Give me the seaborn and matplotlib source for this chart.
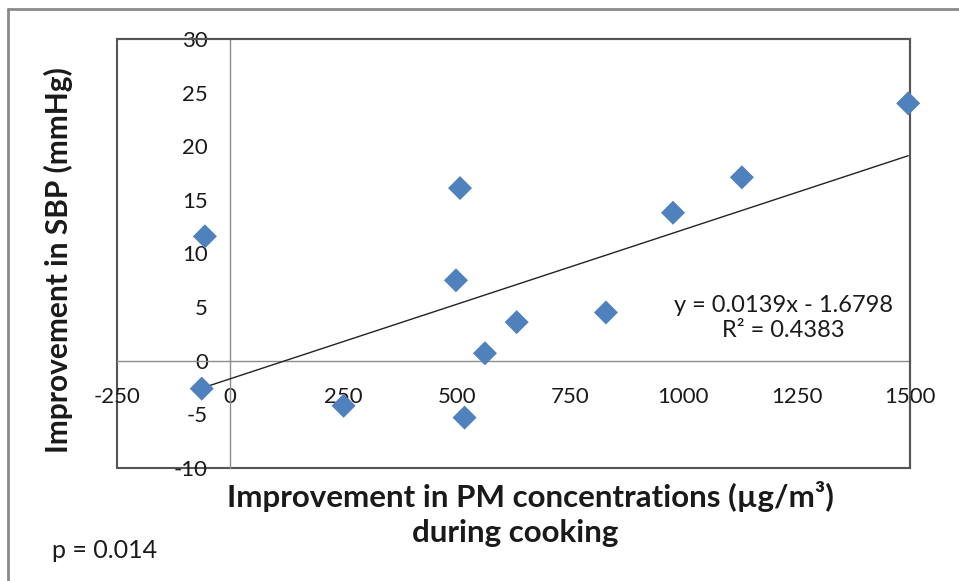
import numpy as np
import pandas as pd
import seaborn as sns
import matplotlib.pyplot as plt
from matplotlib.patches import Rectangle
from matplotlib.lines import Line2D

# data
pm_improvement = [-56, -63, 250, 507, 498, 517, 562, 632, 829, 977, 1129, 1496]
sbp_improvement = [11.6, -2.6, -4.2, 16.1, 7.5, -5.3, 0.7, 3.6, 4.5, 13.8, 17.1, 24.0]
slope = 0.0139
intercept = -1.6798
r_squared = 0.4383
p_value = 0.014
x_ticks = [-250, 0, 250, 500, 750, 1000, 1250, 1500]
y_ticks = [-10, -5, 0, 5, 10, 15, 20, 25, 30]

df = pd.DataFrame({"pm": pm_improvement, "sbp": sbp_improvement})

sns.set_style("white")
plt.rcParams["font.family"] = ["Lato", "DejaVu Sans"]
plt.rcParams["axes.unicode_minus"] = False

fig = plt.figure(figsize=(9.59, 5.81), dpi=100)
ax = fig.add_axes([117 / 959, 1 - 468 / 581, (910 - 117) / 959, (468 - 39) / 581])

# trendline from the printed equation
xs = np.array([min(pm_improvement), max(pm_improvement)])
sns.lineplot(x=xs, y=slope * xs + intercept, color="#222222", linewidth=1.0, ax=ax, zorder=2)
sns.scatterplot(data=df, x="pm", y="sbp", marker="D", s=150, color="#4F81BD",
                edgecolor="none", ax=ax, zorder=3, clip_on=False)

ax.set_xlim(-250, 1500)
ax.set_ylim(-10, 30)
ax.set_xticks(x_ticks)
ax.set_yticks(y_ticks)
ax.set_xlabel("")
ax.set_ylabel("")

# axes cross at zero
ax.spines["left"].set_position(("data", 0))
ax.spines["bottom"].set_position(("data", 0))
for s in ["left", "bottom"]:
    ax.spines[s].set_color("#8c8c8c")
    ax.spines[s].set_linewidth(1.0)
    ax.spines[s].set_zorder(1)
for s in ["top", "right"]:
    ax.spines[s].set_color("#555555")
    ax.spines[s].set_linewidth(1.5)
ax.add_patch(Rectangle((0, 0), 1, 1, transform=ax.transAxes, fill=False,
                       edgecolor="#555555", linewidth=1.5, clip_on=False, zorder=0))

ax.tick_params(axis="both", length=0, labelsize=16, colors="#1a1a1a")
ax.tick_params(axis="y", pad=16)
ax.tick_params(axis="x", pad=19)

eq = f"y = {slope:.4f}x - {abs(intercept):.4f}\nR\u00b2 = {r_squared:.4f}"
ax.text(1220, 4.0, eq, ha="center", va="center", fontsize=17, color="#1a1a1a",
        linespacing=1.25)

fig.text(58 / 959, 1 - 260 / 581, "Improvement in SBP (mmHg)", rotation=90,
         ha="center", va="center", fontsize=21.5, fontweight="bold", color="#1a1a1a")
fig.text(530 / 959, 1 - 497 / 581, "Improvement in PM concentrations (\u00b5g/m\u00b3)",
         ha="center", va="center", fontsize=22.5, fontweight="bold", color="#1a1a1a")
fig.text(515 / 959, 1 - 533 / 581, "during cooking",
         ha="center", va="center", fontsize=22.5, fontweight="bold", color="#1a1a1a")
fig.text(52 / 959, 1 - 551 / 581, f"p = {p_value}", ha="left", va="center",
         fontsize=18, color="#1a1a1a")

# outer chart border (left and top visible)
fig.add_artist(Line2D([8 / 959, 8 / 959], [0, 1 - 9 / 581], transform=fig.transFigure,
                      color="#8a8a8a", linewidth=2))
fig.add_artist(Line2D([8 / 959, 1], [1 - 9 / 581, 1 - 9 / 581], transform=fig.transFigure,
                      color="#8a8a8a", linewidth=2))

fig.savefig("out.png", dpi=100)
